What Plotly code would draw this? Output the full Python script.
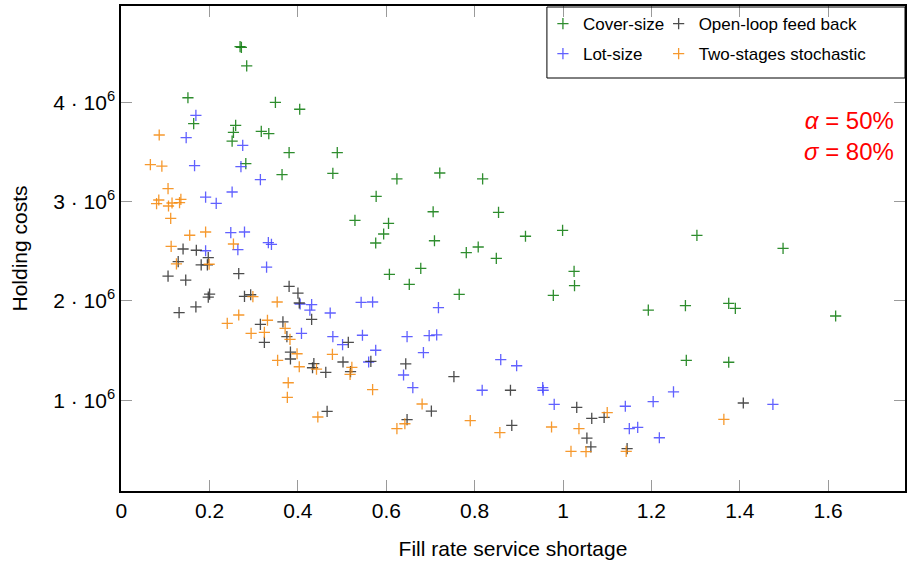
import plotly.graph_objects as go

# ---- data (x: fill rate service shortage, y: holding costs in units of 1e6) ----
cover_x = [0.269, 0.272, 0.284, 0.151, 0.349, 0.404, 0.164, 0.259, 0.254, 0.317, 0.334, 0.251,
           0.380, 0.282, 0.364, 0.489, 0.479, 0.624, 0.721, 0.818, 0.577, 0.529, 0.706, 0.854,
           0.605, 0.594, 0.576, 0.709, 0.915, 0.781, 0.808, 0.849, 0.678, 0.607, 0.652, 0.765,
           0.999, 1.303, 1.498, 1.025, 1.026, 0.978, 1.193, 1.277, 1.375, 1.390, 1.617, 1.279, 1.375]
cover_y = [4.560, 4.553, 4.366, 4.046, 4.000, 3.930, 3.785, 3.768, 3.698, 3.708, 3.684, 3.610,
           3.493, 3.382, 3.271, 3.493, 3.285, 3.228, 3.288, 3.228, 3.053, 2.812, 2.898, 2.892,
           2.781, 2.674, 2.583, 2.606, 2.651, 2.486, 2.543, 2.429, 2.328, 2.268, 2.167, 2.066,
           2.711, 2.660, 2.530, 2.298, 2.153, 2.056, 1.908, 1.952, 1.976, 1.925, 1.848, 1.402, 1.382]

open_x = [0.140, 0.170, 0.197, 0.181, 0.195, 0.129, 0.266, 0.106, 0.146, 0.380, 0.400, 0.200,
          0.197, 0.279, 0.293, 0.403, 0.169, 0.131, 0.431, 0.315, 0.366, 0.324, 0.375, 0.383,
          0.383, 0.436, 0.433, 0.514, 0.463, 0.502, 0.565, 0.519, 0.644, 0.753, 0.466, 0.647,
          0.702, 0.881, 0.884, 1.031, 1.065, 1.093, 1.054, 1.063, 1.145, 1.408]
open_y = [2.523, 2.510, 2.435, 2.362, 2.362, 2.395, 2.274, 2.250, 2.210, 2.147, 2.079, 2.069,
          2.039, 2.046, 2.062, 1.979, 1.939, 1.881, 1.815, 1.764, 1.788, 1.583, 1.640, 1.485,
          1.415, 1.368, 1.327, 1.583, 1.281, 1.385, 1.391, 1.287, 1.365, 1.237, 0.888, 0.804,
          0.891, 1.100, 0.747, 0.928, 0.818, 0.828, 0.619, 0.529, 0.512, 0.972]

lot_x = [0.169, 0.147, 0.275, 0.166, 0.271, 0.315, 0.251, 0.191, 0.215, 0.248, 0.279, 0.333,
         0.340, 0.191, 0.264, 0.329, 0.405, 0.431, 0.427, 0.408, 0.473, 0.543, 0.569, 0.718,
         0.479, 0.546, 0.501, 0.647, 0.697, 0.714, 0.576, 0.684, 0.560, 0.639, 0.660, 0.859,
         0.895, 0.817, 0.954, 0.955, 0.980, 1.141, 1.204, 1.250, 1.150, 1.169, 1.218, 1.475]
lot_y = [3.869, 3.644, 3.567, 3.362, 3.352, 3.221, 3.097, 3.046, 2.983, 2.687, 2.694, 2.586,
         2.570, 2.505, 2.516, 2.341, 1.969, 1.962, 1.908, 1.674, 1.878, 1.986, 1.989, 1.932,
         1.640, 1.654, 1.559, 1.640, 1.650, 1.657, 1.503, 1.479, 1.385, 1.254, 1.126, 1.408,
         1.347, 1.100, 1.126, 1.100, 0.959, 0.939, 0.985, 1.083, 0.713, 0.727, 0.622, 0.959]

two_x = [0.086, 0.066, 0.092, 0.106, 0.085, 0.080, 0.107, 0.115, 0.135, 0.132, 0.112, 0.155,
         0.191, 0.113, 0.254, 0.125, 0.199, 0.298, 0.353, 0.266, 0.240, 0.331, 0.371, 0.294,
         0.324, 0.382, 0.398, 0.354, 0.403, 0.442, 0.378, 0.376, 0.445, 0.478, 0.522, 0.518,
         0.569, 0.681, 0.642, 0.624, 0.790, 0.857, 0.974, 1.036, 1.100, 1.018, 1.052, 1.143, 1.364]
two_y = [3.671, 3.372, 3.358, 3.130, 3.016, 2.979, 2.956, 2.986, 3.023, 2.989, 2.832, 2.661,
         2.694, 2.550, 2.573, 2.372, 2.369, 2.043, 1.989, 1.858, 1.774, 1.805, 1.724, 1.674,
         1.684, 1.613, 1.468, 1.402, 1.337, 1.314, 1.176, 1.029, 0.831, 1.462, 1.331, 1.261,
         1.106, 0.962, 0.763, 0.713, 0.794, 0.673, 0.730, 0.713, 0.874, 0.485, 0.482, 0.485, 0.807]

x_ticks = [0, 0.2, 0.4, 0.6, 0.8, 1.0, 1.2, 1.4, 1.6]
x_tick_labels = ["0", "0.2", "0.4", "0.6", "0.8", "1", "1.2", "1.4", "1.6"]
y_ticks = [1, 2, 3, 4]
y_tick_labels = ["1 · 10<sup>6</sup>", "2 · 10<sup>6</sup>", "3 · 10<sup>6</sup>", "4 · 10<sup>6</sup>"]

FONT = "Liberation Sans"

def series(x, y, name, color, legend):
    return go.Scatter(
        x=x, y=y, mode="markers", name=name, legend=legend, legendgroup=name,
        marker=dict(symbol="cross-thin", size=8, color=color, opacity=0.85,
                    line=dict(color=color, width=1.3)),
    )

fig = go.Figure()
fig.add_trace(series(cover_x, cover_y, "Cover-size", "#0a7a0a", "legend"))
fig.add_trace(series(lot_x, lot_y, "Lot-size", "#4646ff", "legend"))
fig.add_trace(series(open_x, open_y, "Open-loop feed back", "#2e2e2e", "legend2"))
fig.add_trace(series(two_x, two_y, "Two-stages stochastic", "#f5880a", "legend2"))

W, H = 908, 561
ML, MR, MT, MB = 121, 1, 6, 70
PW, PH = W - ML - MR, H - MT - MB

def px_x(p):
    return (p - ML) / PW

def px_y(p):
    return (H - MB - p) / PH

axis_common = dict(
    showline=True, linecolor="black", linewidth=1.5, mirror="ticks",
    ticks="inside", ticklen=11, tickcolor="#9a9a9a", tickwidth=1,
    showgrid=False, zeroline=False,
    tickfont=dict(family=FONT, size=21, color="black"),
)

legend_common = dict(
    xanchor="left", yanchor="top", bgcolor="rgba(0,0,0,0)", borderwidth=0,
    tracegroupgap=5, font=dict(family=FONT, size=17, color="black"), itemwidth=30,
)

fig.update_layout(
    width=W, height=H,
    margin=dict(l=ML, r=MR, t=MT, b=MB),
    plot_bgcolor="white", paper_bgcolor="white",
    font=dict(family=FONT, color="black"),
    xaxis=dict(range=[-0.0005, 1.774], tickvals=x_ticks, ticktext=x_tick_labels,
               title=dict(text="Fill rate service shortage", font=dict(family=FONT, size=21),
                          standoff=20),
               **axis_common),
    yaxis=dict(range=[0.0856, 4.970], tickvals=y_ticks, ticktext=y_tick_labels,
               title=dict(text="Holding costs", font=dict(family=FONT, size=21), standoff=20),
               **axis_common),
    legend=dict(x=px_x(544), y=px_y(6), **legend_common),
    legend2=dict(x=px_x(660), y=px_y(6), **legend_common),
    shapes=[dict(type="rect", xref="paper", yref="paper",
                 x0=px_x(548), x1=1.0, y0=px_y(78), y1=px_y(7),
                 line=dict(color="black", width=1), fillcolor="rgba(0,0,0,0)")],
    annotations=[dict(xref="paper", yref="paper", x=px_x(898), y=px_y(136),
                      xanchor="right", yanchor="middle", align="right", showarrow=False,
                      text="<i>α</i> = 50%<br><i>σ</i> = 80%",
                      font=dict(family=FONT, size=24, color="red"))],
)

fig.write_html("out.html", config={"displayModeBar": False},
               post_script="document.body.style.margin='0';document.body.style.overflow='hidden';")
